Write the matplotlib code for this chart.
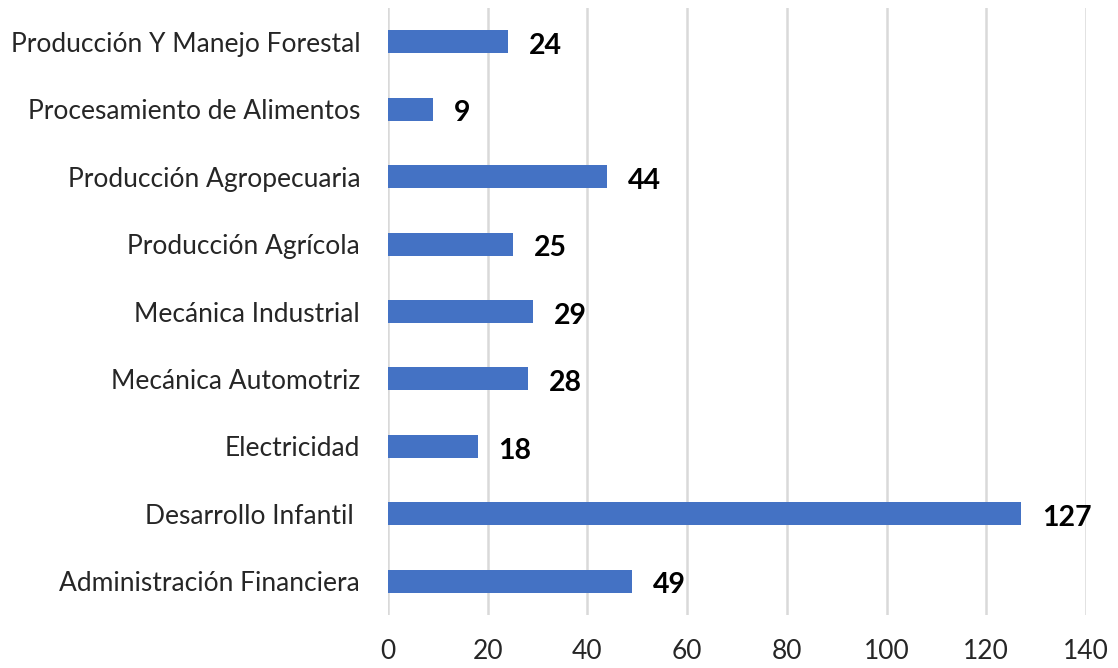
import matplotlib
matplotlib.use("Agg")
import matplotlib.pyplot as plt

categories = [
    "Administración Financiera",
    "Desarrollo Infantil ",
    "Electricidad",
    "Mecánica Automotriz",
    "Mecánica Industrial",
    "Producción Agrícola",
    "Producción Agropecuaria",
    "Procesamiento de Alimentos",
    "Producción Y Manejo Forestal",
]
values = [49, 127, 18, 28, 29, 25, 44, 9, 24]
xticks = [0, 20, 40, 60, 80, 100, 120, 140]

plt.rcParams['font.family'] = ['Lato', 'DejaVu Sans']

fig = plt.figure(figsize=(11.18, 6.68), dpi=100)
ax = fig.add_axes([388/1118, 1-615/668, 698/1118, 607/668])

pos = list(range(len(categories)))
ax.barh(pos, values, height=0.34, color="#4472C4", zorder=3)
for p, v in zip(pos, values):
    ax.annotate(str(v), (v, p), xytext=(15, -3), textcoords="offset points",
                ha="left", va="center", fontsize=20.5, fontweight="bold", color="black")

ax.set_xlim(0, 140)
ax.set_ylim(-0.5, 8.5)
ax.set_xticks(xticks)
ax.set_xticklabels([str(t) for t in xticks])
ax.set_yticks(pos)
ax.set_yticklabels(categories)
ax.tick_params(axis='x', length=0, pad=17, labelsize=19, labelcolor="#262626")
ax.tick_params(axis='y', length=0, pad=20, labelsize=19, labelcolor="#262626")
for s in ax.spines.values():
    s.set_visible(False)
ax.grid(axis='x', color="#D9D9D9", linewidth=1.8, zorder=0)
ax.set_axisbelow(True)

fig.savefig("out.png", dpi=100)
